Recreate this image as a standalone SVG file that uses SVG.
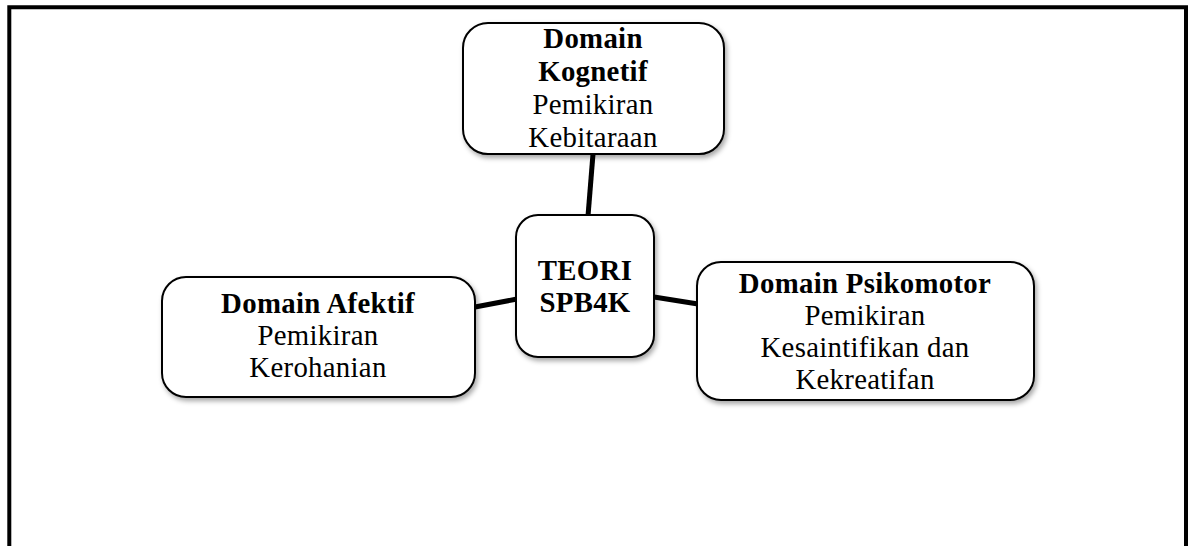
<svg xmlns="http://www.w3.org/2000/svg" width="1189" height="546" viewBox="0 0 1189 546">
<defs>
<filter id="sh" x="-10%" y="-10%" width="130%" height="140%">
<feDropShadow dx="2" dy="3" stdDeviation="2.5" flood-color="#000" flood-opacity="0.35"/>
</filter>
<style>
.box{fill:#fff;stroke:#000;stroke-width:2;filter:url(#sh)}
.t{font-family:"Liberation Serif","Times New Roman",serif;font-size:28.8px;letter-spacing:0.3px;fill:#000;text-anchor:middle}
.b{font-weight:bold}
.c{stroke:#000;stroke-width:5;fill:none}
.frame{fill:none;stroke:#000;stroke-width:4}
</style>
</defs>
<rect width="1189" height="546" fill="#fff"/>
<path class="frame" d="M9.3 550 V7.3 H1186 V550"/>
<g id="connectors">
<line class="c" x1="593" y1="154" x2="588" y2="216"/>
<line class="c" x1="475" y1="307" x2="517" y2="299"/>
<line class="c" x1="654" y1="297" x2="698" y2="304"/>
</g>
<g id="node-kognetif">
<rect class="box" x="463" y="23" width="261" height="131" rx="25"/>
<text class="t b" x="593" y="48">Domain</text>
<text class="t b" x="593" y="81">Kognetif</text>
<text class="t" x="593" y="114">Pemikiran</text>
<text class="t" x="593" y="147">Kebitaraan</text>
</g>
<g id="node-teori">
<rect class="box" x="516" y="215" width="138" height="142" rx="22"/>
<text class="t b" x="585" y="280">TEORI</text>
<text class="t b" x="585" y="312">SPB4K</text>
</g>
<g id="node-afektif">
<rect class="box" x="162" y="277" width="313" height="120" rx="24"/>
<text class="t b" x="318" y="313">Domain Afektif</text>
<text class="t" x="318" y="345">Pemikiran</text>
<text class="t" x="318" y="377">Kerohanian</text>
</g>
<g id="node-psikomotor">
<rect class="box" x="697" y="262" width="337" height="138" rx="24"/>
<text class="t b" x="865" y="293">Domain Psikomotor</text>
<text class="t" x="865" y="325">Pemikiran</text>
<text class="t" x="865" y="357">Kesaintifikan dan</text>
<text class="t" x="865" y="389">Kekreatifan</text>
</g>
</svg>
